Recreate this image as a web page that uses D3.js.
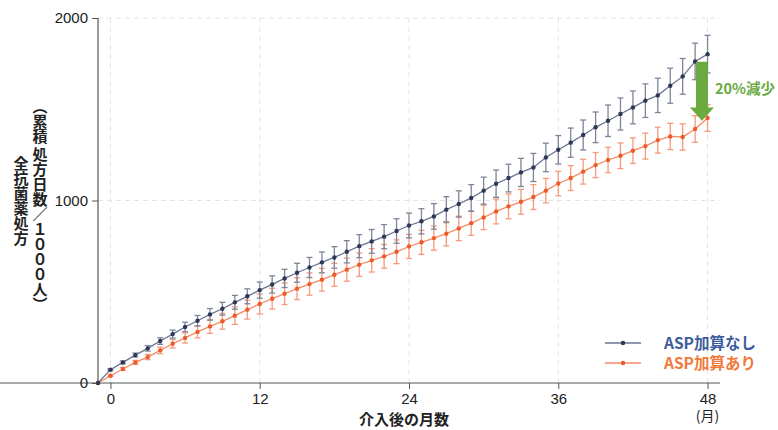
<!DOCTYPE html>
<html>
<head>
<meta charset="utf-8">
<script src="https://cdn.jsdelivr.net/npm/d3@7"></script>
<style>
  html, body { margin: 0; padding: 0; background: #fff; }
  svg { display: block; font-family: "Liberation Sans", "Noto Sans CJK JP", sans-serif; }
  .jp { font-family: "Noto Sans CJK JP", sans-serif; }
</style>
</head>
<body>
<div id="chart"></div>
<script>
// ── data ──────────────────────────────────────────────
const months = [-1, 0, 1, 2, 3, 4, 5, 6, 7, 8, 9, 10, 11, 12,
  13, 14, 15, 16, 17, 18, 19, 20, 21, 22, 23, 24,
  25, 26, 27, 28, 29, 30, 31, 32, 33, 34, 35, 36,
  37, 38, 39, 40, 41, 42, 43, 44, 45, 46, 47, 48];

const noAsp = [0, 73, 113, 153, 190, 230, 268, 307, 341, 376, 407, 442, 475, 509,
  540, 573, 604, 633, 661, 688, 719, 750, 776, 802, 833, 863,
  886, 913, 950, 981, 1014, 1054, 1092, 1123, 1154, 1181, 1236, 1278,
  1317, 1359, 1401, 1437, 1474, 1510, 1547, 1576, 1629, 1680, 1762, 1802];
const noAspErr = [0, 5, 8, 11, 15, 18, 22, 26, 29, 32, 35, 38, 41, 44,
  47, 50, 52, 55, 57, 59, 61, 63, 65, 66, 67, 68,
  69, 70, 71, 72, 73, 74, 75, 76, 77, 77, 78, 78,
  80, 82, 84, 86, 88, 90, 92, 94, 96, 98, 100, 103];

const withAsp = [0, 40, 77, 113, 142, 179, 215, 247, 280, 310, 338, 369, 402, 433,
  462, 489, 517, 542, 566, 593, 621, 648, 672, 694, 719, 748,
  771, 794, 818, 847, 876, 907, 940, 968, 993, 1019, 1054, 1093,
  1123, 1158, 1194, 1222, 1245, 1273, 1298, 1331, 1351, 1348, 1392, 1452];
const withAspErr = [0, 5, 8, 11, 14, 18, 23, 28, 33, 38, 43, 48, 52, 55,
  57, 59, 60, 61, 62, 63, 63, 64, 64, 65, 65, 66,
  66, 66, 67, 67, 67, 67, 68, 68, 68, 68, 67, 67,
  68, 68, 69, 69, 70, 70, 71, 71, 72, 72, 73, 73];

const xTicks = [0, 12, 24, 36, 48];
const yTicks = [0, 1000, 2000];

const seriesNames = ["ASP加算なし", "ASP加算あり"];
const reductionLabel = "20%減少";

// ── layout ────────────────────────────────────────────
const W = 778, H = 430;
const margin = { left: 98, right: 58, top: 18, bottom: 47 };
const plotW = W - margin.left - margin.right;
const plotH = H - margin.top - margin.bottom;

const svg = d3.select("#chart").append("svg")
  .attr("width", W)
  .attr("height", H);

const x = d3.scaleLinear().domain([-1, 49]).range([margin.left, margin.left + plotW]);
const y = d3.scaleLinear().domain([0, 2000]).range([margin.top + plotH, margin.top]);

const axisColor = "#555";
const gridColor = "#e3e3e3";

// grid
svg.append("g").selectAll("line")
  .data(xTicks)
  .join("line")
  .attr("x1", d => x(d)).attr("x2", d => x(d))
  .attr("y1", y(0)).attr("y2", y(2000))
  .attr("stroke", gridColor)
  .attr("stroke-dasharray", "5 4");

svg.append("g").selectAll("line")
  .data(yTicks.filter(d => d > 0))
  .join("line")
  .attr("x1", x(-1)).attr("x2", x(49))
  .attr("y1", d => y(d)).attr("y2", d => y(d))
  .attr("stroke", gridColor)
  .attr("stroke-dasharray", "5 4");

// axes
const xAxis = d3.axisBottom(x).tickValues(xTicks).tickSize(6).tickPadding(4);
const yAxis = d3.axisLeft(y).tickValues(yTicks).tickFormat(d3.format("d"))
  .tickSize(6).tickPadding(4);

const gx = svg.append("g")
  .attr("transform", `translate(0,${y(0)})`)
  .call(xAxis);
const gy = svg.append("g")
  .attr("transform", `translate(${x(-1)},0)`)
  .call(yAxis);

[gx, gy].forEach(g => {
  g.select(".domain").attr("stroke", axisColor).attr("stroke-width", 1.2);
  g.selectAll(".tick line").attr("stroke", axisColor);
  g.selectAll(".tick text")
    .attr("fill", "#222")
    .attr("font-size", 15)
    .style("font-family", "'Liberation Sans', sans-serif");
});

// plain domain lines, no outer ticks
gx.select(".domain").attr("d", `M0,0H${x(49)}`);
gy.select(".domain").attr("d", `M0,${y(0)}V${y(2000)}`);

// (月) under 48
svg.append("text")
  .attr("class", "jp")
  .attr("x", x(48))
  .attr("y", y(0) + 38)
  .attr("text-anchor", "middle")
  .attr("font-size", 14)
  .attr("fill", "#222")
  .text("(月)");

// x axis title
svg.append("text")
  .attr("class", "jp")
  .attr("x", x(24) - 5)
  .attr("y", y(0) + 42)
  .attr("text-anchor", "middle")
  .attr("font-size", 15)
  .attr("font-weight", "bold")
  .attr("fill", "#222")
  .text("介入後の月数");

// y axis title (vertical, two columns)
svg.append("text")
  .attr("class", "jp")
  .attr("x", 40)
  .attr("y", y(1000) + 5)
  .attr("text-anchor", "middle")
  .attr("font-size", 15)
  .attr("font-weight", "bold")
  .attr("fill", "#222")
  .style("writing-mode", "vertical-rl")
  .text("（累積 処方日数／１０００人）");

svg.append("text")
  .attr("class", "jp")
  .attr("x", 21)
  .attr("y", y(1000))
  .attr("text-anchor", "middle")
  .attr("font-size", 15)
  .attr("font-weight", "bold")
  .attr("fill", "#222")
  .style("writing-mode", "vertical-rl")
  .text("全抗菌薬処方");

// ── series ────────────────────────────────────────────
const series = [
  { name: seriesNames[0], vals: noAsp, err: noAspErr,
    line: "#6b7591", dot: "#2d3757", bar: "#7d8598" },
  { name: seriesNames[1], vals: withAsp, err: withAspErr,
    line: "#f48a66", dot: "#f05a2a", bar: "#f59a7c" }
];

const lineGen = d3.line()
  .x(d => x(d.m))
  .y(d => y(d.v));

// orange first so the navy sits on top
series.slice().reverse().forEach(s => {
  const rows = months.map((m, i) => ({ m, v: s.vals[i], e: s.err[i] }));
  const withErr = rows.filter(d => d.e > 0);
  const g = svg.append("g");

  // error bars: stem + two caps
  const eb = g.selectAll("g.eb")
    .data(withErr)
    .join("g")
    .attr("class", "eb")
    .attr("stroke", s.bar)
    .attr("stroke-width", 1.3);
  eb.append("line")
    .attr("x1", d => x(d.m)).attr("x2", d => x(d.m))
    .attr("y1", d => y(d.v - d.e)).attr("y2", d => y(d.v + d.e));
  eb.append("line")
    .attr("x1", d => x(d.m) - 3).attr("x2", d => x(d.m) + 3)
    .attr("y1", d => y(d.v + d.e)).attr("y2", d => y(d.v + d.e));
  eb.append("line")
    .attr("x1", d => x(d.m) - 3).attr("x2", d => x(d.m) + 3)
    .attr("y1", d => y(d.v - d.e)).attr("y2", d => y(d.v - d.e));

  g.append("path")
    .datum(rows)
    .attr("d", lineGen)
    .attr("fill", "none")
    .attr("stroke", s.line)
    .attr("stroke-width", 1.3);

  g.selectAll("circle.point")
    .data(rows)
    .join("circle")
    .attr("class", "point")
    .attr("cx", d => x(d.m))
    .attr("cy", d => y(d.v))
    .attr("r", 2.2)
    .attr("fill", s.dot);
});

// ── reduction arrow ───────────────────────────────────
const green = "#6aaa3e";
const ax = x(47.55);
const shaftTop = y(1760), headTop = y(1510), tip = y(1437);
svg.append("path")
  .attr("d", `M${ax - 6},${shaftTop}H${ax + 6}V${headTop}H${ax + 12}L${ax},${tip}L${ax - 12},${headTop}H${ax - 6}Z`)
  .attr("fill", green);

svg.append("text")
  .attr("class", "jp")
  .attr("x", 715)
  .attr("y", y(1610) + 5)
  .attr("font-size", 14.5)
  .attr("font-weight", "bold")
  .attr("fill", green)
  .text(reductionLabel);

// ── legend ────────────────────────────────────────────
const legendColors = ["#3d5c9e", "#f07a3c"];
series.forEach((s, i) => {
  const ly = 343 + i * 20;
  svg.append("line")
    .attr("x1", 605).attr("x2", 641)
    .attr("y1", ly).attr("y2", ly)
    .attr("stroke", s.line)
    .attr("stroke-width", 1.3);
  svg.append("circle")
    .attr("cx", 623).attr("cy", ly).attr("r", 2.2)
    .attr("fill", s.dot);
  svg.append("text")
    .attr("class", "jp")
    .attr("x", 664)
    .attr("y", ly + 5.5)
    .attr("font-size", 15.5)
    .attr("font-weight", "bold")
    .attr("fill", legendColors[i])
    .text(s.name);
});
</script>
</body>
</html>
